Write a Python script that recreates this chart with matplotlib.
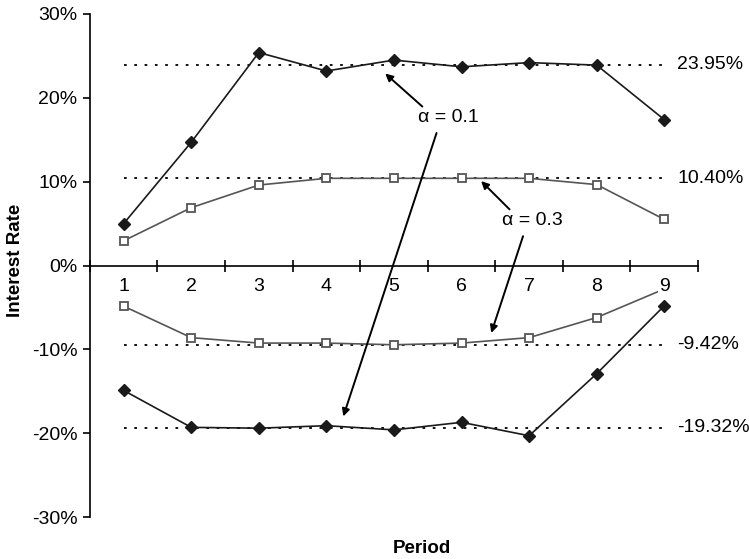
import matplotlib
matplotlib.use("Agg")
from matplotlib import pyplot as plt
from matplotlib.ticker import FuncFormatter, FixedLocator

plt.rcParams['font.family'] = ['Liberation Sans', 'DejaVu Sans']

periods = [1, 2, 3, 4, 5, 6, 7, 8, 9]

# interest rate limits, in percent
upper_a01 = [5.0, 14.7, 25.4, 23.2, 24.5, 23.7, 24.2, 23.9, 17.4]
upper_a03 = [2.95, 6.9, 9.6, 10.4, 10.4, 10.4, 10.4, 9.65, 5.5]
lower_a03 = [-4.85, -8.6, -9.25, -9.25, -9.45, -9.25, -8.6, -6.2, -2.8]
lower_a01 = [-14.9, -19.3, -19.4, -19.1, -19.6, -18.7, -20.3, -12.9, -4.8]

ref_levels = [23.95, 10.40, -9.42, -19.32]
ref_labels = ['23.95%', '10.40%', '-9.42%', '-19.32%']

fig = plt.figure(figsize=(7.49, 5.59), dpi=100)
ax = fig.add_axes([0.120, 0.075, 0.812, 0.900])

# dotted reference levels
for lev, lab in zip(ref_levels, ref_labels):
    ax.plot([periods[0], periods[-1]], [lev, lev], color='black',
            linestyle=(0, (1.5, 4.2)), lw=1.3, zorder=1)
    ax.text(9.19, lev, lab, ha='left', va='center', fontsize=14, clip_on=False)

# series
ax.plot(periods, upper_a01, color='#1a1a1a', lw=1.2, marker='D', ms=6,
        mfc='#1a1a1a', mec='#1a1a1a', zorder=2)
ax.plot(periods, lower_a01, color='#1a1a1a', lw=1.2, marker='D', ms=6,
        mfc='#1a1a1a', mec='#1a1a1a', zorder=2)
ax.plot(periods, upper_a03, color='#555555', lw=1.2, marker='s', ms=5.5,
        mfc='white', mec='#555555', mew=1.3, zorder=2)
ax.plot(periods, lower_a03, color='#555555', lw=1.2, marker='s', ms=5.5,
        mfc='white', mec='#555555', mew=1.3, zorder=2)

# annotations
arrow = dict(arrowstyle='-|>', color='black', lw=1.4, mutation_scale=11,
             shrinkA=0, shrinkB=0)
ax.text(5.81, 17.6, '\u03b1 = 0.1', ha='center', va='center', fontsize=14)
ax.annotate('', xy=(4.87, 22.9), xytext=(5.42, 18.96), arrowprops=arrow)
ax.annotate('', xy=(4.25, -18.0), xytext=(5.63, 15.8), arrowprops=arrow)
ax.text(7.05, 5.4, '\u03b1 = 0.3', ha='center', va='center', fontsize=14)
ax.annotate('', xy=(6.29, 10.07), xytext=(6.71, 6.7), arrowprops=arrow)
ax.annotate('', xy=(6.44, -8.04), xytext=(6.91, 3.5), arrowprops=arrow)

# axes styling
ax.set_xlim(0.5, 9.5)
ax.set_ylim(-30, 30)
ax.spines['top'].set_visible(False)
ax.spines['right'].set_visible(False)
ax.spines['bottom'].set_position(('data', 0))
ax.spines['left'].set_linewidth(1.2)
ax.spines['bottom'].set_linewidth(1.2)
ax.set_axisbelow(False)

ax.set_yticks([-30, -20, -10, 0, 10, 20, 30])
ax.yaxis.set_major_formatter(FuncFormatter(lambda v, p: f'{v:.0f}%'))
ax.tick_params(axis='y', direction='out', length=5, width=1.2, labelsize=14, pad=4)

ax.set_xticks(periods)
ax.set_xticklabels([str(p) for p in periods])
ax.xaxis.set_minor_locator(FixedLocator([p + 0.5 for p in range(0, 10)]))
ax.tick_params(axis='x', which='major', length=0, labelsize=14, pad=9)
ax.tick_params(axis='x', which='minor', direction='inout', length=9, width=1.2)
for lbl in ax.get_xticklabels():
    lbl.set_bbox(dict(facecolor='white', edgecolor='none', pad=1))

ax.set_ylabel('Interest Rate', fontsize=13.5, fontweight='bold')
ax.set_xlabel('Period', fontsize=13.5, fontweight='bold')
ax.xaxis.set_label_coords(0.546, -0.062)
ax.yaxis.set_label_coords(-0.123, 0.51)
ax.yaxis.label.set_va('center')
ax.xaxis.label.set_va('center')

plt.savefig('out.png', dpi=100)
